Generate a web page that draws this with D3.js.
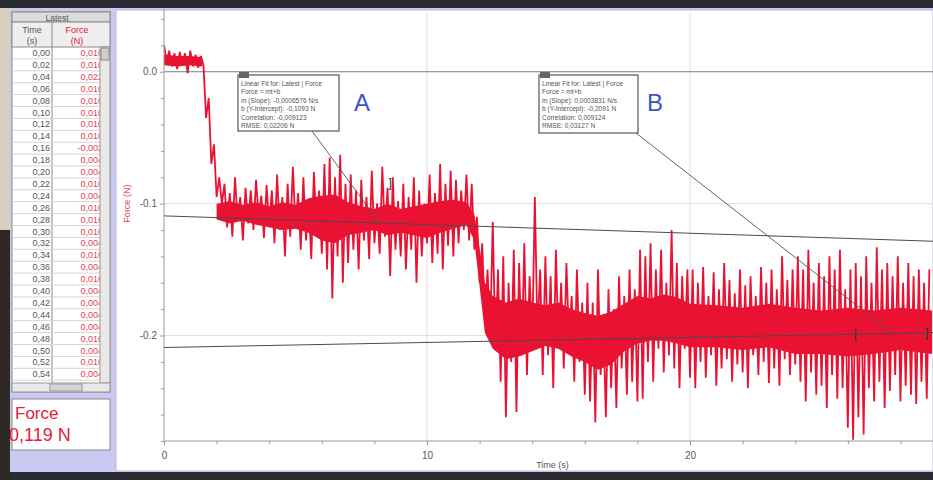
<!DOCTYPE html>
<html><head><meta charset="utf-8">
<script src="https://cdn.jsdelivr.net/npm/d3@7"></script>
<style>
body{margin:0;background:#c9c9f1;overflow:hidden}
svg{display:block;font-family:"Liberation Sans",Arial,sans-serif}
</style></head>
<body><svg id="c" width="933" height="480"></svg>
<script>
// ---------- data ----------
const sampleStep = 0.1; // s between values below
const forceValues = [
 0.020,0.008,0.016,0.004,0.014,0.002,0.015,0.006,0.014,-0.001,0.016,0.004,0.013,0.003,0.012,
 0.005,-0.035,-0.020,-0.070,-0.055,-0.095,-0.080,-0.100,
 -0.085,-0.118,-0.092,-0.125,-0.080,-0.112,-0.095,-0.128,-0.088,-0.115,-0.090,-0.120,-0.082,-0.110,-0.094,-0.126,-0.086,-0.118,
 -0.090,-0.130,-0.078,-0.120,-0.095,-0.140,-0.085,-0.125,-0.072,-0.118,-0.092,-0.135,-0.080,-0.128,-0.098,-0.142,-0.076,-0.122,-0.090,-0.138,
 -0.070,-0.150,-0.065,-0.172,-0.080,-0.140,-0.063,-0.160,-0.085,-0.145,
 -0.078,-0.135,-0.090,-0.150,-0.082,-0.128,-0.095,-0.142,-0.075,-0.130,-0.100,-0.138,-0.072,-0.125,-0.088,-0.155,-0.080,-0.135,-0.098,-0.140,
 -0.085,-0.150,-0.095,-0.135,-0.080,-0.160,-0.090,-0.140,-0.100,-0.130,-0.078,-0.145,-0.092,-0.138,-0.070,-0.150,-0.085,-0.132,-0.075,-0.140,
 -0.082,-0.130,-0.090,-0.120,-0.078,-0.128,-0.085,-0.135,
 -0.110,-0.160,-0.130,-0.190,-0.150,-0.200,
 -0.114,-0.210,-0.150,-0.235,-0.140,-0.262,-0.160,-0.220,-0.135,-0.258,-0.145,-0.215,-0.130,-0.230,-0.155,-0.205,
 -0.095,-0.200,-0.150,-0.230,-0.140,-0.215,-0.155,-0.240,-0.135,-0.210,-0.160,-0.225,-0.145,-0.205,-0.170,-0.235,-0.150,-0.220,-0.175,-0.245,
 -0.160,-0.250,-0.175,-0.266,-0.150,-0.230,-0.185,-0.262,-0.165,-0.240,-0.180,-0.255,-0.155,-0.225,-0.170,-0.245,-0.150,-0.235,-0.165,-0.250,
 -0.135,-0.248,-0.140,-0.220,-0.130,-0.235,-0.150,-0.210,-0.135,-0.228,-0.160,-0.215,-0.120,-0.225,-0.145,-0.240,-0.155,-0.210,-0.150,-0.232,
 -0.150,-0.240,-0.160,-0.220,-0.148,-0.232,-0.170,-0.215,-0.152,-0.238,-0.165,-0.225,-0.145,-0.218,-0.158,-0.235,-0.168,-0.222,-0.150,-0.228,
 -0.162,-0.240,-0.155,-0.215,-0.170,-0.230,-0.148,-0.220,-0.160,-0.236,-0.150,-0.225,-0.165,-0.238,-0.140,-0.218,-0.158,-0.230,-0.150,-0.222,
 -0.140,-0.235,-0.150,-0.250,-0.135,-0.228,-0.160,-0.245,-0.145,-0.238,
 -0.155,-0.255,-0.140,-0.230,-0.150,-0.248,-0.135,-0.240,-0.165,-0.270,
 -0.150,-0.279,-0.145,-0.262,-0.155,-0.275,-0.140,-0.240,-0.160,-0.250,
 -0.133,-0.235,-0.150,-0.255,-0.145,-0.242,-0.155,-0.230,-0.140,-0.250,
 -0.160,-0.238,-0.145,-0.245,-0.155,-0.252,-0.150,-0.235,-0.160,-0.248,-0.150
];
// dense core of the trace (where the plotted samples overlap into solid red)
const coreTimes = [0,0.5,1.0,1.45,1.5,2.0,2.5,3,3.5,4,4.5,5,5.5,6,6.5,7,7.5,8,8.5,9,9.5,10,10.5,11,11.5,11.8,12.2,12.5,13,13.5,14,14.5,15,15.5,16,16.5,17,17.5,18,18.5,19,19.5,20,21,22,23,24,25,26,27,28,29.2];
const coreUpper = [0.013,0.012,0.012,0.011,null,-0.100,-0.098,-0.101,-0.099,-0.102,-0.099,-0.101,-0.096,-0.094,-0.093,-0.099,-0.102,-0.104,-0.100,-0.104,-0.102,-0.100,-0.098,-0.097,-0.099,-0.108,-0.160,-0.170,-0.175,-0.172,-0.175,-0.177,-0.175,-0.180,-0.183,-0.185,-0.182,-0.176,-0.170,-0.172,-0.169,-0.171,-0.176,-0.177,-0.179,-0.176,-0.179,-0.181,-0.179,-0.181,-0.179,-0.181];
const coreLower = [0.005,0.004,0.005,0.004,null,-0.112,-0.115,-0.113,-0.116,-0.118,-0.120,-0.119,-0.122,-0.128,-0.130,-0.124,-0.122,-0.120,-0.124,-0.122,-0.124,-0.126,-0.122,-0.119,-0.116,-0.128,-0.198,-0.210,-0.218,-0.216,-0.212,-0.208,-0.210,-0.216,-0.220,-0.226,-0.222,-0.212,-0.206,-0.204,-0.204,-0.206,-0.209,-0.209,-0.211,-0.209,-0.214,-0.214,-0.216,-0.214,-0.211,-0.214];

const xDomain = [0, 29.2];
const yDomain = [-0.28, 0.04];
const xMajorTicks = [0, 10, 20];
const yMajorTicks = [0, -0.1, -0.2];
const yTickLabels = ["0.0", "-0.1", "-0.2"];

const fitNames = ["A", "B"];
const fitSlopes = [-0.0006576, 0.0003831];
const fitIntercepts = [-0.1093, -0.2091];
const fitSlopeText = ["-0,0006576", "0,0003831"];
const fitInterceptText = ["-0,1093", "-0,2091"];
const fitCorrelation = ["-0,009123", "0,009124"];
const fitRMSE = ["0,02206", "0,03127"];
const fitLeaderT = [8.2, 27.7];

const tableTimes = ["0,00","0,02","0,04","0,06","0,08","0,10","0,12","0,14","0,16","0,18","0,20","0,22","0,24","0,26","0,28","0,30","0,32","0,34","0,36","0,38","0,40","0,42","0,44","0,46","0,48","0,50","0,52","0,54"];
const tableForces = ["0,010","0,010","0,022","0,010","0,010","0,010","0,010","0,010","-0,002","0,004","0,004","0,010","0,004","0,010","0,016","0,010","0,004","0,016","0,004","0,016","0,004","0,004","0,004","0,004","0,010","0,004","0,010","0,004"];
const meterLabel = "Force";
const meterValue = "0,119 N";

// ---------- layout ----------
const svg = d3.select("#c");
const plot = {l:164, r:932, t:19, b:441};
const x = d3.scaleLinear().domain(xDomain).range([plot.l, plot.r]);
const y = d3.scaleLinear().domain(yDomain).range([plot.b, plot.t]);

// surroundings
svg.append("rect").attr("x",0).attr("y",0).attr("width",933).attr("height",480).attr("fill","#c9c9f1");
svg.append("rect").attr("x",0).attr("y",0).attr("width",933).attr("height",8).attr("fill","#2b2b33");
svg.append("rect").attr("x",0).attr("y",472).attr("width",933).attr("height",8).attr("fill","#2b2b33");
svg.append("rect").attr("x",0).attr("y",230).attr("width",10).attr("height",250).attr("fill","#2e2824");
svg.append("rect").attr("x",0).attr("y",8).attr("width",10).attr("height",222).attr("fill","#d8cfc0");
svg.append("rect").attr("x",116).attr("y",10).attr("width",817).attr("height",461).attr("fill","#fff").attr("stroke","#b8b8d8");

// ---------- table ----------
const tb = svg.append("g").attr("font-size",9);
tb.append("rect").attr("x",12).attr("y",12).attr("width",98).attr("height",380).attr("fill","#fff").attr("stroke","#8a8a8a");
tb.append("rect").attr("x",12).attr("y",12).attr("width",98).attr("height",10).attr("fill","#dcdcdc").attr("stroke","#8a8a8a");
tb.append("text").attr("x",57).attr("y",20.5).attr("text-anchor","middle").attr("fill","#555").attr("font-size",8.5).text("Latest");
tb.append("rect").attr("x",12).attr("y",22).attr("width",98).attr("height",25).attr("fill","#eeeeee").attr("stroke","#8a8a8a");
tb.append("line").attr("x1",52).attr("x2",52).attr("y1",22).attr("y2",383).attr("stroke","#8a8a8a");
tb.append("text").attr("x",32).attr("y",33).attr("text-anchor","middle").attr("fill","#555").text("Time");
tb.append("text").attr("x",32).attr("y",44).attr("text-anchor","middle").attr("fill","#555").text("(s)");
tb.append("text").attr("x",77).attr("y",33).attr("text-anchor","middle").attr("fill","#e02040").text("Force");
tb.append("text").attr("x",77).attr("y",44).attr("text-anchor","middle").attr("fill","#e02040").text("(N)");
const rowH = 11.9;
tb.append("defs").append("clipPath").attr("id","fc").append("rect").attr("x",53).attr("y",47).attr("width",47).attr("height",336);
tableTimes.forEach((t,i)=>{
  const yy = 47 + i*rowH;
  tb.append("line").attr("x1",12).attr("x2",100).attr("y1",yy+rowH).attr("y2",yy+rowH).attr("stroke","#d4d4d4");
  tb.append("text").attr("x",50).attr("y",yy+9).attr("text-anchor","end").attr("fill","#555").text(t);
  tb.append("text").attr("x",103).attr("y",yy+9).attr("text-anchor","end").attr("fill","#e0405a").attr("clip-path","url(#fc)").text(tableForces[i]);
});
// scrollbars
tb.append("rect").attr("x",100).attr("y",47).attr("width",10).attr("height",336).attr("fill","#e8e8e8").attr("stroke","#999");
tb.append("rect").attr("x",101).attr("y",48).attr("width",8).attr("height",12).attr("fill","#cfcfcf").attr("stroke","#888");
tb.append("rect").attr("x",12).attr("y",383).attr("width",98).attr("height",9).attr("fill","#e8e8e8").attr("stroke","#999");
tb.append("rect").attr("x",50).attr("y",384).attr("width",32).attr("height",7).attr("fill","#d4d4d4").attr("stroke","#999");

// meter
svg.append("rect").attr("x",12).attr("y",399).attr("width",98).attr("height",51).attr("fill","#fff").attr("stroke","#888");
svg.append("text").attr("x",15).attr("y",419).attr("font-size",17).attr("fill","#e0203a").text(meterLabel);
svg.append("text").attr("x",9).attr("y",441).attr("font-size",18).attr("fill","#e0203a").text(meterValue);

// ---------- grid ----------
const g = svg.append("g");
xMajorTicks.slice(1).forEach(v=>{
  g.append("line").attr("x1",x(v)).attr("x2",x(v)).attr("y1",plot.t-6).attr("y2",plot.b).attr("stroke","#dedede");
});
yMajorTicks.slice(1).forEach(v=>{
  g.append("line").attr("x1",plot.l).attr("x2",plot.r+1).attr("y1",y(v)).attr("y2",y(v)).attr("stroke","#dedede");
});
g.append("line").attr("x1",plot.l).attr("x2",933).attr("y1",y(0)).attr("y2",y(0)).attr("stroke","#7a7a7a").attr("stroke-width",1.2);

// ---------- data ----------
svg.append("defs").append("clipPath").attr("id","pc").append("rect")
  .attr("x",plot.l).attr("y",plot.t-8).attr("width",933-plot.l).attr("height",plot.b-plot.t+8);
svg.append("path").datum(coreTimes.map((t,i)=>({t, hi:coreUpper[i], lo:coreLower[i]})))
  .attr("clip-path","url(#pc)").attr("fill","#ea1232")
  .attr("d", d3.area().defined(d=>d.hi!==null).x(d=>x(d.t)).y0(d=>y(d.lo)).y1(d=>y(d.hi)));
svg.append("path").datum(forceValues)
  .attr("clip-path","url(#pc)")
  .attr("fill","none").attr("stroke","#ea1232").attr("stroke-width",1.8).attr("stroke-linejoin","bevel")
  .attr("d", d3.line().x((d,i)=>x(i*sampleStep)).y(d=>y(d)));

// ---------- fit lines ----------
fitNames.forEach((n,k)=>{
  svg.append("line")
    .attr("x1",x(xDomain[0])).attr("y1",y(fitIntercepts[k]+fitSlopes[k]*xDomain[0]))
    .attr("x2",933).attr("y2",y(fitIntercepts[k]+fitSlopes[k]*x.invert(933)))
    .attr("stroke","#4a4a4a").attr("stroke-width",1);
});

// ---------- axes ----------
const yMinor = d3.range(-0.28, 0.041, 0.02).filter(v=>!yMajorTicks.some(m=>Math.abs(m-v)<1e-6));
const xMinor = d3.range(2, 29.2, 2).filter(v=>!xMajorTicks.includes(v));
const ax = svg.append("g");
const yAx = ax.append("g").attr("transform",`translate(${plot.l},0)`)
  .call(d3.axisLeft(y).tickValues(yMajorTicks).tickSize(4).tickFormat((d,i)=>yTickLabels[i]));
const yAxMin = ax.append("g").attr("transform",`translate(${plot.l},0)`)
  .call(d3.axisLeft(y).tickValues(yMinor).tickSize(3).tickFormat(""));
const xAx = ax.append("g").attr("transform",`translate(0,${plot.b})`)
  .call(d3.axisBottom(x).tickValues(xMajorTicks).tickSize(4).tickFormat(d3.format("d")));
const xAxMin = ax.append("g").attr("transform",`translate(0,${plot.b})`)
  .call(d3.axisBottom(x).tickValues(xMinor).tickSize(3).tickFormat(""));
[yAx,yAxMin,xAx,xAxMin].forEach(a=>{
  a.select(".domain").attr("stroke","#9a9a9a");
  a.selectAll(".tick line").attr("stroke","#9a9a9a");
  a.selectAll("text").attr("fill","#5a5a5a").attr("font-size",10).attr("font-family","Liberation Sans, Arial, sans-serif");
});
yAx.select(".domain").attr("d",`M0,${plot.t-10}V${plot.b}`);
xAx.select(".domain").attr("d",`M${plot.l},0H933`);
xAxMin.select(".domain").remove(); yAxMin.select(".domain").remove();
xAx.selectAll("text").attr("dy","1.1em");

svg.append("text").attr("x",(x(10)+x(20))/2+(-6)).attr("y",468).attr("text-anchor","middle")
  .attr("font-size",9).attr("fill","#555").text("Time (s)");
svg.append("text").attr("transform",`translate(130,${y(-0.1)}) rotate(-90)`).attr("text-anchor","middle")
  .attr("font-size",9).attr("fill","#e0405a").text("Force (N)");

// ---------- annotation boxes ----------
const boxPos = [[238,75,101,56],[539,75,99,58]];
const anchorPt = [[312,131],[636,133]];
fitNames.forEach((n,k)=>{
  const [bx,by,bw,bh] = boxPos[k];
  svg.append("line").attr("x1",anchorPt[k][0]).attr("y1",anchorPt[k][1])
    .attr("x2",x(fitLeaderT[k])).attr("y2",y(fitIntercepts[k]+fitSlopes[k]*fitLeaderT[k]))
    .attr("stroke","#555").attr("stroke-width",0.9);
  const bg = svg.append("g");
  bg.append("rect").attr("x",bx).attr("y",by).attr("width",bw).attr("height",bh)
    .attr("fill","#fff").attr("stroke","#555").attr("stroke-width",1.2);
  bg.append("rect").attr("x",bx+1).attr("y",by-3).attr("width",10).attr("height",6).attr("fill","#666");
  const lines = [
    "Linear Fit for: Latest | Force",
    "Force = mt+b",
    `m (Slope): ${fitSlopeText[k]} N/s`,
    `b (Y-Intercept): ${fitInterceptText[k]} N`,
    `Correlation: ${fitCorrelation[k]}`,
    `RMSE: ${fitRMSE[k]} N`
  ];
  lines.forEach((s,j)=>{
    bg.append("text").attr("x",bx+3).attr("y",by+11+j*8.4).attr("font-size",6.6).attr("fill","#555").text(s);
  });
  svg.append("text").attr("x",[362,655][k]).attr("y",111).attr("text-anchor","middle")
    .attr("font-size",24).attr("fill","#3a55c8").text(n);
});
// fit region brackets
const bracketT = [[8.6,"]"],[26.3,"["],[29.0,"]"]];
const bracketFit = [0,1,1];
bracketT.forEach((b,i)=>{
  const f = fitIntercepts[bracketFit[i]] + fitSlopes[bracketFit[i]]*b[0];
  svg.append("text").attr("x",x(b[0])).attr("y",y(f)+ (i===0?-36:4)).attr("font-size",12)
    .attr("fill","#333").attr("text-anchor","middle").text(b[1]);
});
</script></body></html>
